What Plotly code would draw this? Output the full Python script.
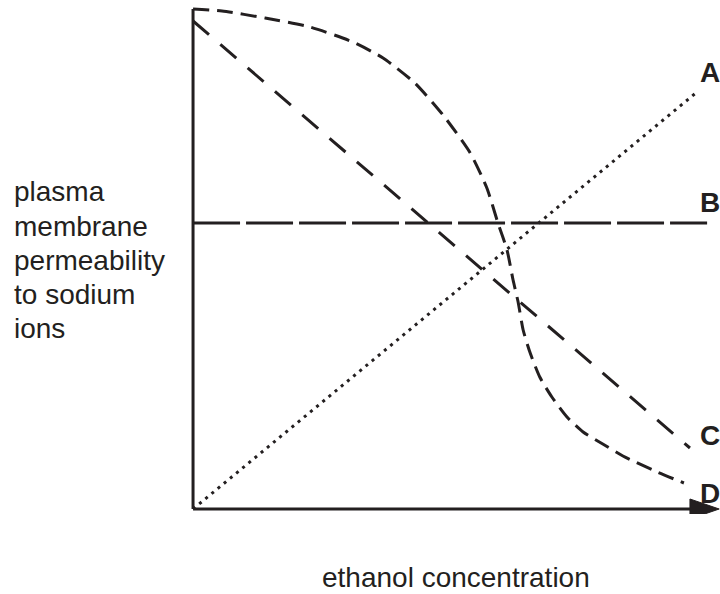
import plotly.graph_objects as go

# Data (arbitrary units: ethanol concentration 0-100, permeability 0-100)
a_x = [0, 100]
a_y = [0, 83.4]
b_x = [0, 102]
b_y = [57.2, 57.2]
c_x = [0, 98.6]
c_y = [97.6, 12.2]
d_x = [0, 5.75, 14.3, 23.2, 31.7, 37.7, 44.0, 49.6, 55.0, 58.3, 60.5, 62.3, 63.5,
       64.5, 65.5, 66.9, 68.8, 71.2, 74.2, 77.4, 81.3, 85.3, 92.1, 97.4]
d_y = [100, 99.6, 98.2, 96.4, 93.4, 90.2, 85.2, 78.8, 71.2, 64.2, 57.2, 51.8, 45.8,
       41.4, 35.8, 31.2, 26.4, 22.4, 18.4, 15.4, 13.0, 10.6, 7.4, 5.2]

line_labels = ["A", "B", "C", "D"]
label_y = [87.2, 61.2, 14.8, 3.2]
ylabel_lines = ["plasma", "membrane", "permeability", "to sodium", "ions"]
xlabel = "ethanol concentration"

INK = "#231f20"
FONT = "Liberation Sans, Arial, Helvetica, sans-serif"

XR = [-1, 104.56]
YR = [-1, 101]


def paper_x(v):
    return (v - XR[0]) / (XR[1] - XR[0])


def paper_y(v):
    return (v - YR[0]) / (YR[1] - YR[0])


fig = go.Figure()
fig.add_trace(go.Scatter(x=a_x, y=a_y, mode="lines", line=dict(color=INK, width=3, dash="3px,5px")))
fig.add_trace(go.Scatter(x=b_x, y=b_y, mode="lines", line=dict(color=INK, width=3, dash="47px,6px")))
fig.add_trace(go.Scatter(x=c_x, y=c_y, mode="lines", line=dict(color=INK, width=3, dash="21px,15px")))
fig.add_trace(go.Scatter(x=d_x, y=d_y, mode="lines",
                         line=dict(color=INK, width=3, dash="16px,8px", shape="spline", smoothing=0.6)))

# axes with arrow
fig.add_shape(type="line", x0=0, y0=0, x1=0, y1=100, line=dict(color=INK, width=3))
fig.add_shape(type="line", x0=0, y0=0, x1=99, y1=0, line=dict(color=INK, width=3))
fig.add_shape(type="path", path="M 98.6 -2 L 104.4 0 L 98.6 2 Z",
              fillcolor=INK, line=dict(color=INK, width=1))

for lab, ly in zip(line_labels, label_y):
    fig.add_annotation(x=paper_x(102.6), y=paper_y(ly), xref="paper", yref="paper",
                       text=f"<b>{lab}</b>", showarrow=False,
                       xanchor="center", yanchor="middle", font=dict(size=28, color=INK, family=FONT))

ylab_y = [63.4, 56.6, 49.8, 43.0, 36.2]
for t, yy in zip(ylabel_lines, ylab_y):
    fig.add_annotation(x=paper_x(-35.9), y=paper_y(yy), xref="paper", yref="paper", text=t,
                       showarrow=False, xanchor="left", yanchor="middle",
                       font=dict(size=28, color=INK, family=FONT))

fig.add_annotation(x=paper_x(52.2), y=paper_y(-13.6), xref="paper", yref="paper", text=xlabel,
                   showarrow=False, xanchor="center", yanchor="middle",
                   font=dict(size=28, color=INK, family=FONT))

fig.update_xaxes(range=XR, visible=False, showgrid=False, zeroline=False)
fig.update_yaxes(range=YR, visible=False, showgrid=False, zeroline=False)
fig.update_layout(width=720, height=594, margin=dict(l=188, r=0, t=4, b=80),
                  paper_bgcolor="white", plot_bgcolor="white", showlegend=False)

fig.write_html("out.html", config={"displayModeBar": False},
               post_script="document.body.style.margin='0px';document.documentElement.style.overflow='hidden';")
